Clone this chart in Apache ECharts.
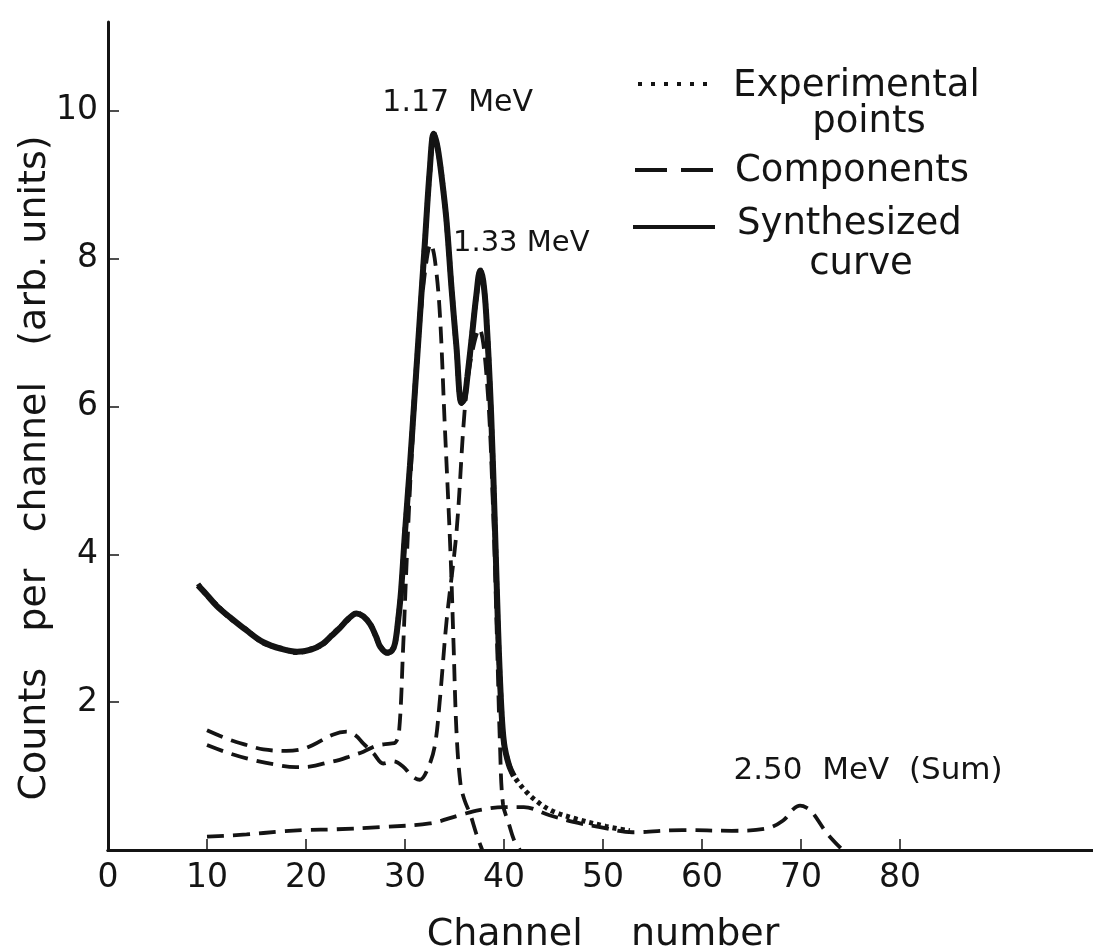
<!DOCTYPE html>
<html>
<head>
<meta charset="utf-8">
<title>Co-60 pulse height spectrum</title>
<script src="https://cdn.jsdelivr.net/npm/echarts@6/dist/echarts.min.js"></script>
<style>
  html, body { margin: 0; padding: 0; background: #ffffff; }
  #chart { width: 1093px; height: 950px; }
</style>
</head>
<body>
<div id="chart"></div>
<script>
// Synthesized curve (solid), channel number vs counts per channel
const synthChannels = [9.1, 10, 11, 12.3, 14, 15.7, 17.5, 19.1, 20.5, 21.7, 22.6, 23.4, 24.3, 25.1, 25.8, 26.5, 27.1, 27.5, 28.2, 28.7, 29.0, 29.3, 29.6, 30.0, 30.5, 31.0, 31.5, 32.0, 32.5, 32.9, 33.3, 33.8, 34.2, 34.7, 35.2, 35.7, 36.0, 36.3, 36.8, 37.2, 37.6, 37.9, 38.2, 38.7, 39.1, 39.4, 39.7, 40.0, 40.5, 41.0];
const synthCounts   = [3.58, 3.45, 3.3, 3.15, 2.97, 2.81, 2.72, 2.68, 2.71, 2.79, 2.9, 3.0, 3.13, 3.2, 3.16, 3.05, 2.88, 2.75, 2.67, 2.7, 2.8, 3.1, 3.5, 4.3, 5.2, 6.2, 7.2, 8.2, 9.2, 9.69, 9.5, 9.0, 8.5, 7.6, 6.8, 6.05, 6.1, 6.4, 7.0, 7.5, 7.84, 7.7, 7.25, 5.9, 4.3, 3.0, 2.0, 1.45, 1.15, 1.0];

// Experimental points (dotted)
const expChannels = [9.1, 10, 11, 12.3, 14, 15.7, 17.5, 19.1, 20.5, 21.7, 22.6, 23.4, 24.3, 25.1, 25.8, 26.5, 27.1, 27.5, 28.2, 28.7, 29.0, 29.3, 29.6, 30.0, 30.5, 31.0, 31.5, 32.0, 32.5, 32.9, 33.3, 33.8, 34.2, 34.7, 35.2, 35.7, 36.0, 36.3, 36.8, 37.2, 37.6, 37.9, 38.2, 38.7, 39.1, 39.4, 39.7, 40.0, 40.5, 41.0, 42.3, 43.6, 45.0, 47.3, 50.3, 52.7];
const expCounts   = [3.6, 3.44, 3.31, 3.14, 2.98, 2.8, 2.73, 2.67, 2.72, 2.78, 2.91, 3.01, 3.12, 3.21, 3.15, 3.06, 2.87, 2.76, 2.66, 2.71, 2.79, 3.11, 3.49, 4.31, 5.19, 6.22, 7.19, 8.21, 9.18, 9.7, 9.49, 9.02, 8.48, 7.62, 6.78, 6.04, 6.12, 6.38, 7.02, 7.48, 7.85, 7.68, 7.27, 5.88, 4.32, 2.98, 2.02, 1.44, 1.16, 1.0, 0.78, 0.63, 0.52, 0.42, 0.32, 0.26];

// Component: 1.17 MeV response
const comp117Channels = [10, 12, 14, 16.7, 19, 20.5, 22.1, 23.4, 24.5, 25.8, 27.1, 28.5, 29.0, 29.4, 29.8, 30.2, 30.7, 31.5, 32.1, 32.6, 33.0, 33.5, 34.0, 34.6, 34.9, 35.2, 35.6, 36.0, 36.6, 37.2, 37.8];
const comp117Counts   = [1.42, 1.32, 1.24, 1.16, 1.12, 1.13, 1.18, 1.22, 1.27, 1.33, 1.41, 1.44, 1.45, 1.6, 2.7, 4.0, 5.4, 7.1, 7.9, 8.2, 8.0, 7.3, 5.8, 4.0, 2.8, 1.6, 0.9, 0.68, 0.48, 0.22, 0.0];

// Component: 1.33 MeV response
const comp133Channels = [10, 12.3, 14, 15.7, 18, 19.5, 20.7, 22.7, 24.1, 25.0, 25.8, 26.8, 27.8, 28.8, 29.8, 30.7, 31.5, 32.3, 33.0, 33.5, 34.2, 35.2, 36.0, 36.6, 37.5, 38.3, 38.9, 39.3, 39.6, 39.9, 40.5, 41.0, 41.6];
const comp133Counts   = [1.62, 1.49, 1.42, 1.36, 1.34, 1.36, 1.42, 1.56, 1.6, 1.55, 1.44, 1.31, 1.17, 1.2, 1.13, 1.0, 0.95, 1.1, 1.4, 2.0, 3.1, 4.3, 5.9, 6.6, 7.05, 6.3, 4.6, 2.8, 1.4, 0.62, 0.35, 0.14, 0.0];

// Component: 2.50 MeV sum response
const sumChannels = [10, 14, 17.4, 20, 23, 27.5, 32.5, 35.5, 37.5, 40, 42, 44.6, 47, 49.7, 53, 58, 63, 66.5, 68.2, 69.2, 69.9, 70.6, 71.2, 72.6, 74.2];
const sumCounts   = [0.18, 0.21, 0.25, 0.27, 0.28, 0.31, 0.36, 0.47, 0.54, 0.58, 0.58, 0.47, 0.38, 0.31, 0.24, 0.27, 0.26, 0.29, 0.4, 0.55, 0.6, 0.57, 0.5, 0.23, 0.0];

// Axis ticks and labels
const xTickValues = [0, 10, 20, 30, 40, 50, 60, 70, 80];
const yTickValues = [2, 4, 6, 8, 10];

// Titles and peak annotations
const xTitle = 'Channel    number';
const yTitle = 'Counts   per   channel   (arb. units)';
const peakLabels = ['1.17  MeV', '1.33 MeV', '2.50  MeV  (Sum)'];

const FONT = 'DejaVu Sans';
const INK = '#141414';

function pairs(xs, ys) { return xs.map((x, i) => [x, ys[i]]); }
function peakOf(xs, ys, lo, hi) {
  let best = -1;
  xs.forEach((x, i) => { if (x >= lo && x <= hi && (best < 0 || ys[i] > ys[best])) best = i; });
  return [xs[best], ys[best]];
}

const peak117 = peakOf(synthChannels, synthCounts, 30, 35);
const peak133 = peakOf(synthChannels, synthCounts, 36, 40);
const peakSum = peakOf(sumChannels, sumCounts, 60, 75);

function annotation(coord, text, offset, size) {
  return {
    coord: coord,
    symbol: 'circle',
    symbolSize: 0,
    label: {
      show: true,
      formatter: text,
      position: 'inside',
      offset: offset,
      color: INK,
      fontFamily: FONT,
      fontSize: size
    }
  };
}

const dashStyle = { color: INK, width: 3.8, type: [17, 9] };

const chart = echarts.init(document.getElementById('chart'), null, { renderer: 'canvas' });

chart.setOption({
  backgroundColor: '#ffffff',
  animation: false,
  grid: { left: 108, top: 22, width: 990, height: 828, containLabel: false, outerBoundsMode: 'none' },
  xAxis: [{
    type: 'value',
    min: 0, max: 100, interval: 10,
    name: xTitle,
    nameLocation: 'middle',
    nameGap: 66,
    nameTextStyle: { fontFamily: FONT, fontSize: 38, color: INK },
    axisLine: { show: true, onZero: false, lineStyle: { color: INK, width: 3 } },
    axisTick: { show: true, inside: true, length: 11, customValues: xTickValues, lineStyle: { color: INK, width: 1.5 } },
    axisLabel: { show: true, customValues: xTickValues, margin: 12, fontFamily: FONT, fontSize: 33, color: INK },
    splitLine: { show: false }
  }, {
    type: 'value',
    position: 'top',
    min: 0, max: 100,
    axisLine: { show: true, lineStyle: { color: INK, width: 3 } },
    axisTick: { show: false },
    axisLabel: { show: false },
    splitLine: { show: false }
  }],
  yAxis: {
    type: 'value',
    min: 0, max: 11.2, interval: 2,
    axisLine: { show: true, onZero: false, lineStyle: { color: INK, width: 3 } },
    axisTick: { show: true, inside: true, length: 11, customValues: yTickValues, lineStyle: { color: INK, width: 1.5 } },
    axisLabel: { show: true, customValues: yTickValues, margin: 10, fontFamily: FONT, fontSize: 33, color: INK },
    splitLine: { show: false }
  },
  series: [
    {
      name: 'Components (2.50 MeV sum)',
      type: 'line', smooth: 0.35, showSymbol: false,
      data: pairs(sumChannels, sumCounts),
      lineStyle: dashStyle,
      markPoint: { data: [annotation(peakSum, peakLabels[2], [68, -35], 31)] }
    },
    {
      name: 'Components (1.17 MeV)',
      type: 'line', smooth: 0.35, showSymbol: false,
      data: pairs(comp117Channels, comp117Counts),
      lineStyle: dashStyle
    },
    {
      name: 'Components (1.33 MeV)',
      type: 'line', smooth: 0.35, showSymbol: false,
      data: pairs(comp133Channels, comp133Counts),
      lineStyle: dashStyle
    },
    {
      name: 'Synthesized curve',
      type: 'line', smooth: 0.35, showSymbol: false,
      data: pairs(synthChannels, synthCounts),
      lineStyle: { color: INK, width: 6 },
      markPoint: {
        data: [
          annotation(peak117, peakLabels[0], [24, -30], 30),
          annotation(peak133, peakLabels[1], [41, -27], 29)
        ]
      }
    },
    {
      name: 'Experimental points',
      type: 'line', smooth: 0.35, showSymbol: false,
      data: pairs(expChannels, expCounts),
      lineStyle: { color: INK, width: 5, type: [4, 4] }
    }
  ],
  graphic: [
    // vertical axis title
    { type: 'text', x: 35, y: 468, rotation: Math.PI / 2,
      style: { text: yTitle, fontFamily: FONT, fontSize: 38, fill: INK, align: 'center', verticalAlign: 'middle' } },
    // key: line samples
    { type: 'line', shape: { x1: 638, y1: 84, x2: 715, y2: 84 },
      style: { stroke: INK, lineWidth: 4, lineDash: [4, 9] } },
    { type: 'line', shape: { x1: 635, y1: 170, x2: 713, y2: 170 },
      style: { stroke: INK, lineWidth: 4, lineDash: [32, 14] } },
    { type: 'line', shape: { x1: 633, y1: 227, x2: 715, y2: 227 },
      style: { stroke: INK, lineWidth: 4 } },
    // key: text
    { type: 'text', x: 733, y: 86,
      style: { text: 'Experimental', fontFamily: FONT, fontSize: 37, fill: INK, verticalAlign: 'middle' } },
    { type: 'text', x: 869, y: 122,
      style: { text: 'points', fontFamily: FONT, fontSize: 37, fill: INK, align: 'center', verticalAlign: 'middle' } },
    { type: 'text', x: 735, y: 171,
      style: { text: 'Components', fontFamily: FONT, fontSize: 37, fill: INK, verticalAlign: 'middle' } },
    { type: 'text', x: 737, y: 224,
      style: { text: 'Synthesized', fontFamily: FONT, fontSize: 37, fill: INK, verticalAlign: 'middle' } },
    { type: 'text', x: 861, y: 264,
      style: { text: 'curve', fontFamily: FONT, fontSize: 37, fill: INK, align: 'center', verticalAlign: 'middle' } }
  ]
});
</script>
</body>
</html>
